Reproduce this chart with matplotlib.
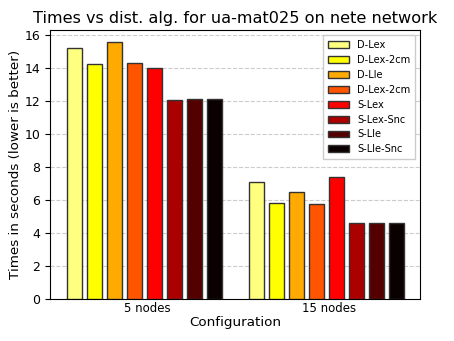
import matplotlib
matplotlib.use("Agg")
import matplotlib.pyplot as plt
import numpy as np

configs = ["5 nodes", "15 nodes"]
algorithms = ["D-Lex", "D-Lex-2cm", "D-Lle", "D-Lex-2cm", "S-Lex", "S-Lex-Snc", "S-Lle", "S-Lle-Snc"]
d_lex = [15.2, 7.06]
d_lex_2cm = [14.25, 5.84]
d_lle = [15.57, 6.5]
d_lex_2cm_b = [14.3, 5.78]
s_lex = [14.0, 7.42]
s_lex_snc = [12.04, 4.62]
s_lle = [12.1, 4.63]
s_lle_snc = [12.1, 4.6]
series = [d_lex, d_lex_2cm, d_lle, d_lex_2cm_b, s_lex, s_lex_snc, s_lle, s_lle_snc]
colors = ["#ffff80", "#ffff00", "#ffaa00", "#ff5500", "#ff0000", "#aa0000", "#550000", "#0a0000"]

fig = plt.figure(figsize=(4.54, 3.41), dpi=100)
ax = fig.add_axes([50/454, 1 - 299/341, 370/454, 269/341])

group_pos = np.array([0.0, 9.1])
width = 0.75
for i, (name, vals) in enumerate(zip(algorithms, series)):
    ax.bar(group_pos + i, vals, width=width, color=colors[i], edgecolor="#333333",
           linewidth=1.0, label=name, zorder=3)

ax.set_xlim(-1.2, 17.3)
ax.set_ylim(0, 16.3)
ax.set_xticks(group_pos + 3.65)
ax.set_xticklabels(configs, fontsize=8.5)
ax.tick_params(axis="x", length=0, pad=2)
ax.tick_params(axis="y", labelsize=9)
ax.set_yticks(range(0, 17, 2))
ax.yaxis.grid(True, linestyle="--", color="#cccccc", linewidth=0.8, zorder=0)
ax.set_axisbelow(True)
ax.set_xlabel("Configuration", fontsize=9.7, labelpad=1)
ax.set_ylabel("Times in seconds (lower is better)", fontsize=9.7, labelpad=2)
ax.set_title("Times vs dist. alg. for ua-mat025 on nete network", fontsize=11.6, pad=5)
ax.legend(loc="upper right", fontsize=7.1, framealpha=1, fancybox=False,
          edgecolor="#cccccc", borderpad=0.5, handlelength=2.1)

fig.savefig("out.png", dpi=100)
